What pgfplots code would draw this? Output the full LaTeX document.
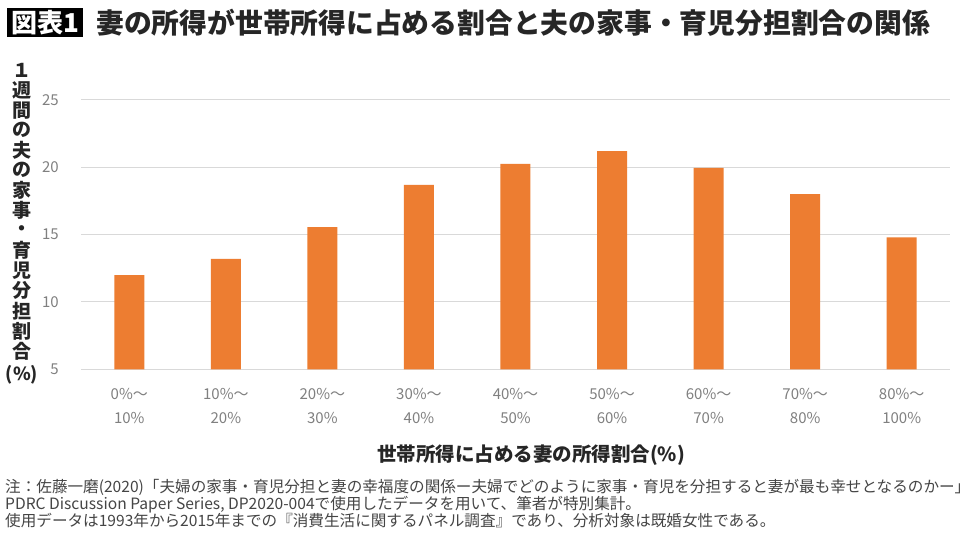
\documentclass[border=0pt]{standalone}
\usepackage{pgfplots}
\pgfplotsset{compat=1.18}
\usepackage{fontspec}
\setmainfont{Noto Sans CJK JP}
\definecolor{barc}{HTML}{ED7D31}
\definecolor{tickc}{HTML}{808080}
\definecolor{labc}{HTML}{262626}
\definecolor{notec}{HTML}{454545}
\begin{document}
\begin{tikzpicture}[x=1pt,y=1pt]
\path[fill=white,use as bounding box] (0,0) rectangle (970,534);
\begin{axis}[at={(81pt,164.7pt)}, anchor=south west, scale only axis,
  width=869pt, height=269.3pt,
  xmin=-0.5, xmax=8.5, ymin=5, ymax=25,
  ytick={5,10,15,20,25}, xtick={0,1,2,3,4,5,6,7,8},
  xticklabels={{0\%～\\10\%},{10\%～\\20\%},{20\%～\\30\%},{30\%～\\40\%},{40\%～\\50\%},{50\%～\\60\%},{60\%～\\70\%},{70\%～\\80\%},{80\%～\\100\%}},
  ymajorgrids, grid style={draw=gray!30, line width=1pt},
  axis line style={draw=none}, major tick length=0pt,
  /pgf/number format/assume math mode=true,
  xticklabel style={align=center, font=\fontsize{15}{24}\selectfont, text=tickc, inner sep=0pt},
  xticklabel shift=19pt,
  yticklabel style={font=\fontsize{15}{18}\selectfont, text=tickc, inner sep=0pt},
  yticklabel shift=22pt,
  ybar, bar width=30pt,
]
\addplot[fill=barc, draw=none] coordinates {(0,12.0) (1,13.2) (2,15.55) (3,18.7) (4,20.25) (5,21.2) (6,19.95) (7,18.0) (8,14.8)};
\end{axis}
% title
\node[fill=black, text=white, font=\bfseries\fontsize{26}{26}\selectfont, minimum width=76pt, minimum height=29pt, inner sep=0pt] at (45,511.5) {図表1};
\node[anchor=west, text=labc, font=\bfseries\fontsize{27.8}{28}\selectfont, inner sep=0pt] at (96,511) {妻の所得が世帯所得に占める割合と夫の家事・育児分担割合の関係};
% y label
\foreach \c [count=\i] in {１,週,間,の,夫,の,家,事,・,育,児,分,担,割,合}
  \node[text=labc, font=\bfseries\fontsize{19}{20}\selectfont, inner sep=0pt] at (22,{534-70-(\i-1)*20.07}) {\c};
\node[text=labc, font=\bfseries\fontsize{18}{20}\selectfont, inner sep=0pt] at (22,159) {(\%)};
% x label
\node[text=labc, font=\bfseries\fontsize{19.5}{20}\selectfont, inner sep=0pt] at (531,79) {世帯所得に占める妻の所得割合(\%)};
% note
\node[anchor=north west, align=left, text=notec, font=\fontsize{15.6}{17}\selectfont, inner sep=0pt] at (5,55) {注：佐藤一磨(2020)「夫婦の家事・育児分担と妻の幸福度の関係ー夫婦でどのように家事・育児を分担すると妻が最も幸せとなるのかー」\\PDRC Discussion Paper Series, DP2020-004で使用したデータを用いて、筆者が特別集計。\\使用データは1993年から2015年までの『消費生活に関するパネル調査』であり、分析対象は既婚女性である。};
\end{tikzpicture}
\end{document}
